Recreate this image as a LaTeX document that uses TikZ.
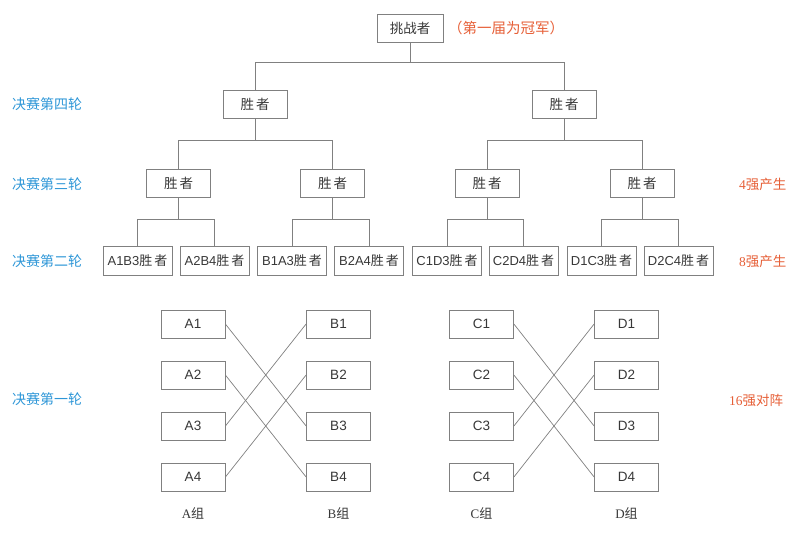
\documentclass[tikz,border=0pt]{standalone}
\usepackage{fontspec}
\setmainfont{Liberation Serif}
\setsansfont{Liberation Sans}
\newfontfamily\cjk{Noto Sans CJK SC}
\newcommand{\hanzi}[1]{{\cjk #1}}
\newcommand{\winner}{\hanzi{胜\hspace{2pt}者}}
\definecolor{linegray}{RGB}{128,128,128}
\definecolor{txtgray}{RGB}{55,55,55}
\definecolor{roundblue}{RGB}{45,150,215}
\definecolor{notered}{RGB}{230,95,55}
\tikzset{
  box/.style={draw=linegray, line width=0.8pt, minimum width=64pt, minimum height=28pt,
    inner sep=0pt, text=txtgray, font=\sffamily\fontsize{13.5}{15}\selectfont},
  widebox/.style={box, minimum width=69pt, minimum height=29pt, font=\sffamily\fontsize{13}{15}\selectfont},
  link/.style={draw=linegray, line width=0.7pt},
  roundlbl/.style={anchor=west, inner sep=0pt, text=roundblue, font=\cjk\fontsize{14}{16}\selectfont},
  notelbl/.style={anchor=west, inner sep=0pt, text=notered, font=\fontsize{13.5}{15}\selectfont},
  grouplbl/.style={inner sep=0pt, text=txtgray, font=\fontsize{13}{15}\selectfont},
}
\begin{document}
\begin{tikzpicture}[x=1pt,y=-1pt]
    \useasboundingbox (0,0) rectangle (800,533);
    % the challenger and the note beside it
    \node[box, minimum width=66pt] (champ) at (410,28) {\hanzi{挑战者}};
    \node[notelbl, font=\fontsize{14.5}{16}\selectfont] (note) at (448,28) {\hanzi{（第一届为冠军）}};
    % fourth round winners
    \node[box] (w4l) at (255,104) {\winner};
    \node[box] (w4r) at (564,104) {\winner};
    % third round winners
    \node[box] (w3a) at (178.5,183.5) {\winner};
    \node[box] (w3b) at (332.5,183.5) {\winner};
    \node[box] (w3c) at (487,183.5) {\winner};
    \node[box] (w3d) at (642,183.5) {\winner};
    % second round winners
    \node[widebox] (w2a) at (137.5,261) {A1B3\winner};
    \node[widebox] (w2b) at (214.5,261) {A2B4\winner};
    \node[widebox] (w2c) at (292,261) {B1A3\winner};
    \node[widebox] (w2d) at (369,261) {B2A4\winner};
    \node[widebox] (w2e) at (447,261) {C1D3\winner};
    \node[widebox] (w2f) at (523.5,261) {C2D4\winner};
    \node[widebox] (w2g) at (601.5,261) {D1C3\winner};
    \node[widebox] (w2h) at (678.5,261) {D2C4\winner};
    % the tree lines
    \foreach \c in {w4l,w4r}
        \draw[link] (champ.south) -- ++(0,20) -| (\c.north);
    \foreach \p/\c in {w4l/w3a,w4l/w3b,w4r/w3c,w4r/w3d}
        \draw[link] (\p.south) -- ++(0,22) -| (\c.north);
    \foreach \p/\c in {w3a/w2a,w3a/w2b,w3b/w2c,w3b/w2d,w3c/w2e,w3c/w2f,w3d/w2g,w3d/w2h}
        \draw[link] (\p.south) -- ++(0,21) -| (\c.north);
    % first round, four groups
    \foreach \i/\y in {1/324,2/375,3/426,4/477} {
        \node[box] (A\i) at (193,\y) {A\i};
        \node[box] (B\i) at (338.5,\y) {B\i};
        \node[box] (C\i) at (481.5,\y) {C\i};
        \node[box] (D\i) at (626.5,\y) {D\i};
    }
    \foreach \a/\b in {1/3,2/4,3/1,4/2} {
        \draw[link] (A\a.east) -- (B\b.west);
        \draw[link] (C\a.east) -- (D\b.west);
    }
    \node[grouplbl] (ga) at (193,513) {A\hanzi{组}};
    \node[grouplbl] (gb) at (338.5,513) {B\hanzi{组}};
    \node[grouplbl] (gc) at (481.5,513) {C\hanzi{组}};
    \node[grouplbl] (gd) at (626.5,513) {D\hanzi{组}};
    % round names on the left
    \node[roundlbl] (r4) at (12,104) {决赛第四轮};
    \node[roundlbl] (r3) at (12,184) {决赛第三轮};
    \node[roundlbl] (r2) at (12,261) {决赛第二轮};
    \node[roundlbl] (r1) at (12,399) {决赛第一轮};
    % what each round gives, on the right
    \node[notelbl] (q4) at (739,184) {4\hanzi{强产生}};
    \node[notelbl] (q8) at (739,261) {8\hanzi{强产生}};
    \node[notelbl] (q16) at (729,400) {16\hanzi{强对阵}};
\end{tikzpicture}
\end{document}
